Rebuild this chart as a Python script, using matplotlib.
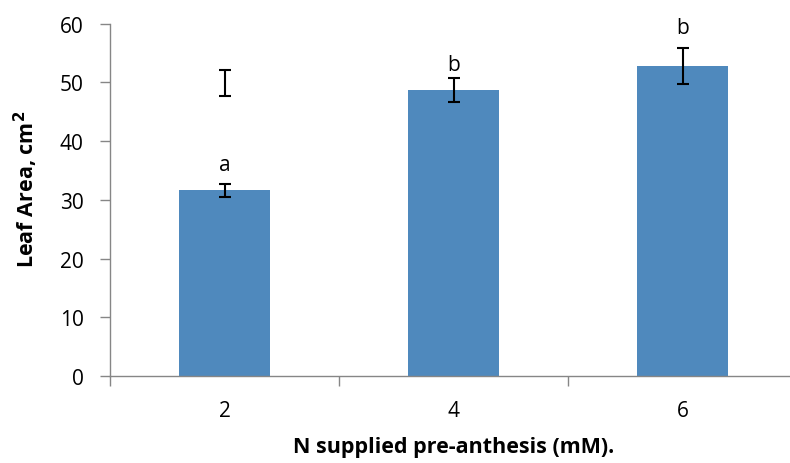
import matplotlib
matplotlib.use("Agg")
import matplotlib.pyplot as plt

categories = ["2", "4", "6"]
values = [31.6, 48.75, 52.75]
errors = [1.1, 2.05, 3.05]
letters = ["a", "b", "b"]
letter_y = [36.1, 53.1, 59.3]
stray_value = 49.9
stray_error = 2.2
yticks = [0, 10, 20, 30, 40, 50, 60]

plt.rcParams['font.family'] = ['Open Sans', 'DejaVu Sans']

fig = plt.figure(figsize=(7.9, 4.64), dpi=100)
ax = fig.add_axes([110/790, 87/464, 687/790, 352.3/464])

x = list(range(len(categories)))
bar_color = '#4F89BD'
ax.bar(x, values, width=0.4, color=bar_color, zorder=2)
ax.errorbar(x, values, yerr=errors, fmt='none', ecolor='black',
            elinewidth=1.5, capsize=4.5, capthick=1.5, zorder=3)
ax.errorbar([x[0]], [stray_value], yerr=[stray_error], fmt='none', ecolor='black',
            elinewidth=1.5, capsize=4.5, capthick=1.5, zorder=3)

for xi, lt, ly in zip(x, letters, letter_y):
    ax.text(xi, ly, lt, ha='center', va='center', fontsize=15)

ax.set_xlim(-0.5, len(categories) - 0.5)
ax.set_ylim(0, 60)
ax.set_yticks(yticks)
ax.set_yticklabels([str(t) for t in yticks], fontsize=15)

ax.set_xticks([-0.5, 0.5, 1.5, 2.5])
ax.set_xticklabels([])
ax.set_xticks(x, minor=True)
ax.set_xticklabels(categories, minor=True, fontsize=15)
ax.tick_params(axis='x', which='minor', length=0, pad=17)
ax.tick_params(axis='x', which='major', length=7, color='#868686', width=1, direction='out')
ax.tick_params(axis='y', length=7, color='#868686', width=1, direction='out', pad=12)

for s in ['top', 'right']:
    ax.spines[s].set_visible(False)
for s in ['left', 'bottom']:
    ax.spines[s].set_color('#868686')
    ax.spines[s].set_linewidth(1)

ax.set_ylabel('Leaf Area, cm$^{\\mathbf{2}}$', fontsize=15.5, fontweight='bold', labelpad=14)
ax.yaxis.label.set_y(0.533)
ax.set_xlabel('N supplied pre-anthesis (mM).', fontsize=15.5, fontweight='bold', labelpad=11)

fig.savefig('out.png', dpi=100)
